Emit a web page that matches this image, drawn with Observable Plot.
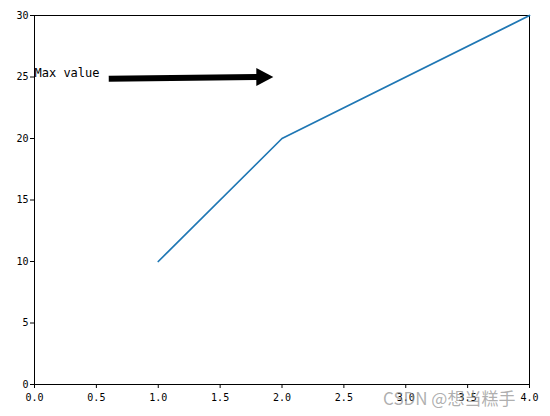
<!DOCTYPE html>
<html>
<head>
<meta charset="utf-8">
<script src="https://cdn.jsdelivr.net/npm/d3@7"></script>
<script src="https://cdn.jsdelivr.net/npm/@observablehq/plot@0.6"></script>
<style>
  html, body { margin: 0; padding: 0; background: #fff; }
  #wrap { position: relative; width: 550px; height: 416px; }
  #wm { position: absolute; left: 383px; top: 385px; font-family: "Noto Sans CJK SC", sans-serif; font-size: 17px; color: rgba(140,140,140,0.7); white-space: nowrap; pointer-events: none; }
</style>
</head>
<body>
<div id="wrap"><div id="wm">CSDN @想当糕手</div></div>
<script>
const xs = [1, 2, 4];
const ys = [10, 20, 30];
const xTicks = [0, 0.5, 1, 1.5, 2, 2.5, 3, 3.5, 4];
const yTicks = [0, 5, 10, 15, 20, 25, 30];
const annText = ["Max value"];
const annTextX = [0];
const annY = [25];
const arrowFromX = [0.6];
const arrowFromY = [24.85];
const arrowToX = [1.93];

const line = xs.map((x, i) => ({x, y: ys[i]}));
const font = "'DejaVu Sans Mono', monospace";

// filled arrow head whose tip sits at the anchor point
const headSymbol = {
  draw(ctx, size) {
    ctx.moveTo(0, 0);
    ctx.lineTo(-17, -9);
    ctx.lineTo(-17, 9);
    ctx.closePath();
  }
};

const chart = Plot.plot({
  width: 550,
  height: 416,
  marginLeft: 34,
  marginRight: 21,
  marginTop: 15,
  marginBottom: 32,
  style: {fontFamily: font, fontSize: "10px", color: "#000", background: "#fff"},
  x: {domain: [0, 4], ticks: xTicks, tickFormat: d3.format(".1f"), tickSize: 4, tickPadding: 5, label: null},
  y: {domain: [0, 30], ticks: yTicks, tickSize: 4, tickPadding: 2, label: null},
  marks: [
    Plot.frame({stroke: "#000", strokeWidth: 1}),
    Plot.line(line, {x: "x", y: "y", stroke: "#1f77b4", strokeWidth: 1.7}),
    Plot.text(annText, {x: annTextX, y: annY, text: d => d, textAnchor: "start", dy: -4, fontSize: 12, fontFamily: font, fill: "#000"}),
    Plot.link([0], {x1: arrowFromX, x2: arrowToX.map(v => v - 0.1), y1: arrowFromY, y2: annY, stroke: "#000", strokeWidth: 6, strokeLinecap: "butt"}),
    Plot.dot([0], {x: arrowToX, y: annY, symbol: headSymbol, r: 5, fill: "#000", stroke: "none"})
  ]
});
document.getElementById("wrap").prepend(chart);
</script>
</body>
</html>
